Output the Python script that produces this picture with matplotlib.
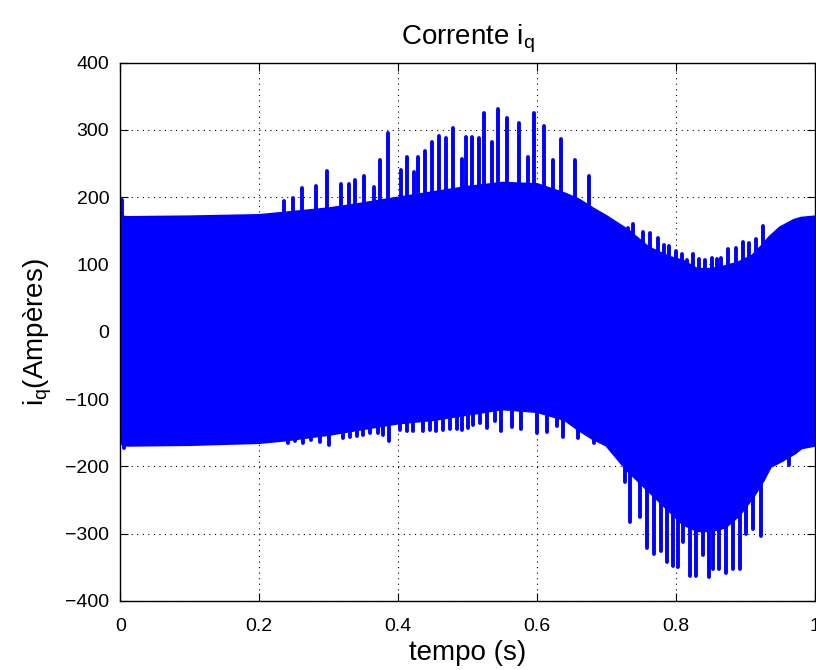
import numpy as np
import matplotlib
matplotlib.use("Agg")
import matplotlib.pyplot as plt

plt.rcParams['font.family'] = ['Liberation Sans', 'DejaVu Sans']
plt.rcParams['mathtext.fontset'] = 'custom'
plt.rcParams['mathtext.rm'] = 'Liberation Sans'
plt.rcParams['mathtext.it'] = 'Liberation Sans:italic'

# envelope of the fast oscillation
t_env = [0.0, 0.01, 0.1, 0.2, 0.24, 0.3, 0.34, 0.4, 0.45, 0.5, 0.55, 0.6, 0.64,
         0.66, 0.68, 0.7, 0.73, 0.76, 0.79, 0.81, 0.83, 0.85, 0.87, 0.89, 0.91,
         0.925, 0.935, 0.95, 0.97, 0.98, 1.0]
upper_env = [170, 169, 170, 172, 176, 182, 188, 198, 206, 214, 220, 218, 204,
             195, 182, 170, 150, 124, 110, 104, 92, 92, 96, 102, 112,
             128, 140, 154, 165, 168, 170]
lower_env = [-165, -168, -167, -164, -160, -152, -145, -135, -130, -122, -114, -118, -130,
             -145, -158, -168, -205, -235, -265, -285, -295, -295, -290, -272, -245,
             -220, -200, -192, -180, -172, -168]

# individual peaks sticking out of the envelope
peak_up_t = [0.002, 0.236, 0.249, 0.262, 0.281, 0.297, 0.318, 0.329, 0.338, 0.350,
             0.365, 0.373, 0.385, 0.404, 0.412, 0.422, 0.429, 0.439, 0.448, 0.458,
             0.469, 0.479, 0.491, 0.497, 0.506, 0.516, 0.524, 0.535, 0.544, 0.557,
             0.573, 0.587, 0.595, 0.609, 0.623, 0.634, 0.655, 0.675,
             0.731, 0.738, 0.752, 0.762, 0.773, 0.783, 0.790, 0.799, 0.808, 0.815,
             0.824, 0.832, 0.841, 0.851, 0.858, 0.865, 0.875, 0.886, 0.896, 0.905,
             0.915, 0.925]
peak_up_v = [195, 194, 198, 213, 217, 239, 219, 219, 226, 231,
             215, 255, 295, 240, 260, 238, 260, 268, 282, 291,
             288, 302, 256, 290, 290, 288, 325, 282, 331, 317,
             310, 260, 325, 305, 255, 286, 255, 231,
             154, 160, 148, 147, 139, 129, 128, 120, 116, 107,
             115, 108, 107, 109, 108, 109, 123, 124, 134, 132,
             138, 157]

peak_dn_t = [0.006, 0.241, 0.251, 0.263, 0.275, 0.287, 0.301, 0.320, 0.330, 0.340,
             0.349, 0.359, 0.371, 0.378, 0.387, 0.402, 0.412, 0.421, 0.436, 0.445,
             0.455, 0.464, 0.474, 0.484, 0.491, 0.500, 0.508, 0.517, 0.527, 0.539,
             0.548, 0.563, 0.577, 0.599, 0.614, 0.628, 0.637, 0.659, 0.681,
             0.726, 0.734, 0.748, 0.758, 0.768, 0.778, 0.786, 0.795, 0.803, 0.810,
             0.820, 0.829, 0.838, 0.847, 0.853, 0.861, 0.871, 0.881, 0.892, 0.901,
             0.911, 0.922, 0.930, 0.952, 0.962]
peak_dn_v = [-173, -165, -163, -165, -161, -164, -168, -158, -156, -155,
             -153, -151, -150, -153, -162, -146, -148, -148, -147, -146,
             -147, -146, -144, -144, -146, -143, -138, -136, -143, -133,
             -147, -142, -145, -150, -149, -140, -156, -158, -166,
             -223, -282, -275, -321, -330, -326, -342, -348, -349, -312,
             -363, -363, -332, -365, -353, -352, -359, -353, -353, -301,
             -293, -303, -207, -190, -198]

fig = plt.figure(figsize=(8.16, 6.70), dpi=100)
ax = fig.add_axes([0.1474, 0.1031, 0.8517, 0.8036])

blue = (0, 0, 1)
lw = 2.8
ax.fill_between(t_env, lower_env, upper_env, color=blue, lw=0)
ax.plot(t_env, upper_env, color=blue, lw=lw, solid_capstyle='round')
ax.plot(t_env, lower_env, color=blue, lw=lw, solid_capstyle='round')
ax.vlines(peak_up_t, 0, peak_up_v, color=blue, lw=lw, capstyle='round')
ax.vlines(peak_dn_t, 0, peak_dn_v, color=blue, lw=lw, capstyle='round')

ax.set_xlim(0, 1)
ax.set_ylim(-400, 400)
ax.set_xticks(np.arange(0, 1.01, 0.2))
ax.set_xticklabels(['0', '0.2', '0.4', '0.6', '0.8', '1'])
ax.set_yticks(np.arange(-400, 401, 100))

ax.set_axisbelow(True)
ax.grid(True, color='k', linestyle=(0, (1, 4)), linewidth=0.8)
ax.tick_params(direction='in', length=6, width=0.8, top=True, right=True,
               labelsize=14)
ax.tick_params(axis='x', pad=12)
ax.tick_params(axis='y', pad=8)
for s in ax.spines.values():
    s.set_linewidth(1.0)

ax.set_title(r'Corrente $\mathregular{i_q}$', fontsize=20, pad=13)
ax.set_xlabel('tempo (s)', fontsize=20, labelpad=4)
ax.set_ylabel(r'$\mathregular{i_q}$(Ampères)', fontsize=20, labelpad=8)

fig.savefig('out.png', dpi=100)
